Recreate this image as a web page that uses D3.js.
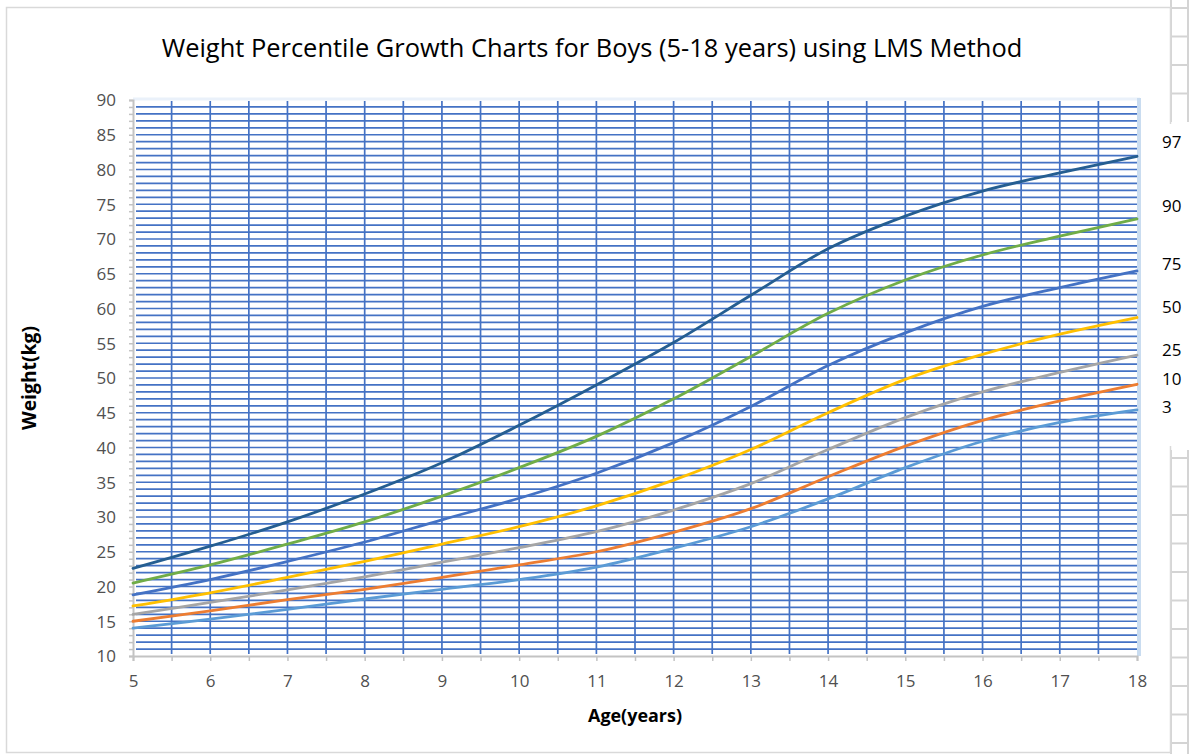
<!DOCTYPE html>
<html>
<head>
<meta charset="utf-8">
<script src="https://cdn.jsdelivr.net/npm/d3@7"></script>
<style>
  html, body { margin: 0; padding: 0; background: #fff; }
  svg { display: block; }
  text { font-family: "Open Sans", Lato, sans-serif; }
</style>
</head>
<body>
<svg id="chart" width="1192" height="754"></svg>
<script>
// ---- data ----
const ages = [5, 6, 7, 8, 9, 10, 11, 12, 13, 14, 15, 16, 17, 18];
const p97 = [22.6, 25.8, 29.3, 33.3, 37.8, 43.2, 49.0, 55.1, 61.9, 68.6, 73.3, 76.9, 79.5, 81.9];
const p90 = [20.5, 23.1, 26.1, 29.3, 33.0, 37.1, 41.6, 47.0, 53.1, 59.3, 64.1, 67.7, 70.4, 72.9];
const p75 = [18.8, 21.0, 23.6, 26.4, 29.6, 32.7, 36.3, 40.7, 45.9, 51.8, 56.5, 60.3, 63.0, 65.4];
const p50 = [17.2, 19.1, 21.3, 23.6, 26.1, 28.6, 31.6, 35.3, 39.7, 45.0, 49.8, 53.4, 56.3, 58.7];
const p25 = [16.0, 17.7, 19.5, 21.4, 23.5, 25.6, 27.9, 31.0, 34.8, 39.7, 44.3, 48.0, 50.8, 53.3];
const p10 = [15.0, 16.5, 18.1, 19.6, 21.3, 23.1, 25.0, 27.8, 31.2, 35.8, 40.2, 43.9, 46.7, 49.1];
const p3  = [14.0, 15.3, 16.7, 18.2, 19.6, 21.0, 22.8, 25.5, 28.6, 32.6, 37.1, 40.9, 43.6, 45.4];

const seriesNames = ["97", "90", "75", "50", "25", "10", "3"];
const seriesValues = [p97, p90, p75, p50, p25, p10, p3];
const seriesColors = ["#255E91", "#70AD47", "#4472C4", "#FFC000", "#A5A5A5", "#ED7D31", "#5B9BD5"];
// where the hand-placed percentile labels sit on the weight scale (kg)
const labelLevels = [84.0, 74.8, 66.4, 60.2, 54.0, 49.8, 45.8];

const xTicks = [5, 6, 7, 8, 9, 10, 11, 12, 13, 14, 15, 16, 17, 18];
const yTicks = [10, 15, 20, 25, 30, 35, 40, 45, 50, 55, 60, 65, 70, 75, 80, 85, 90];
const titleText = "Weight Percentile Growth Charts for Boys (5-18 years) using LMS Method";
const xTitle = "Age(years)";
const yTitle = "Weight(kg)";

// ---- layout ----
const svg = d3.select("#chart");
const plot = { left: 133, right: 1137, top: 100, bottom: 656 };
const x = d3.scaleLinear().domain([5, 18]).range([plot.left, plot.right]);
const y = d3.scaleLinear().domain([10, 90]).range([plot.bottom, plot.top]);

function fitWidth(sel, base, target) {
  const w = sel.node().getComputedTextLength();
  sel.attr("font-size", base * target / w);
}

// spreadsheet cells peeking out on the right
const cellG = svg.append("g").attr("stroke", "#d4d4d4").attr("stroke-width", 2).attr("fill", "none");
[[0, 122], [450, 754]].forEach(([t, b]) => {
  cellG.append("line").attr("x1", 1171).attr("x2", 1171).attr("y1", t).attr("y2", b);
  cellG.append("line").attr("x1", 1188).attr("x2", 1188).attr("y1", t).attr("y2", b);
  for (let yy = t + 8; yy < b; yy += 28.5) {
    cellG.append("line").attr("x1", 1171).attr("x2", 1188).attr("y1", yy).attr("y2", yy);
  }
});

// chart border
svg.append("rect").attr("x", 6.5).attr("y", 7.5).attr("width", 1164).attr("height", 745)
  .attr("fill", "#fff").attr("stroke", "#d9d9d9").attr("stroke-width", 1.5);
// white text box holding the percentile labels
svg.append("rect").attr("x", 1150).attr("y", 124).attr("width", 42).attr("height", 322).attr("fill", "#fff");

// title (sized to the reference's width)
const title = svg.append("text").attr("x", 592).attr("y", 57).attr("text-anchor", "middle")
  .attr("font-size", 20).attr("fill", "#000").text(titleText);
fitWidth(title, 20, 861);

// plot-area edges (light blue)
svg.append("line").attr("x1", plot.left).attr("x2", plot.right + 3).attr("y1", plot.top - 1).attr("y2", plot.top - 1)
  .attr("stroke", "#eaf1fa").attr("stroke-width", 3);
svg.append("line").attr("x1", plot.right + 2).attr("x2", plot.right + 2).attr("y1", plot.top - 2).attr("y2", plot.bottom)
  .attr("stroke", "#c9dcf0").attr("stroke-width", 4);

// gridlines
const hGrid = d3.range(11, 90, 1);
const vGrid = d3.range(5.5, 18, 0.5);
const gridG = svg.append("g").attr("stroke", "#4472C4").attr("stroke-width", 1.7);
gridG.selectAll("line.h").data(hGrid).join("line").attr("class", "h")
  .attr("x1", plot.left + 3).attr("x2", plot.right).attr("y1", d => y(d)).attr("y2", d => y(d));
gridG.selectAll("line.v").data(vGrid).join("line").attr("class", "v")
  .attr("x1", d => x(d)).attr("x2", d => x(d)).attr("y1", plot.top + 1).attr("y2", plot.bottom - 2);

// axes
const xAxis = d3.axisBottom(x).tickValues(d3.range(5, 18.01, 0.5)).tickSize(5).tickFormat(d => xTicks.includes(d) ? d : "");
const yAxis = d3.axisLeft(y).tickValues(d3.range(10, 90.01, 1)).tickSize(4).tickFormat(d => yTicks.includes(d) ? d : "");

const gx = svg.append("g").attr("transform", `translate(0,${plot.bottom})`).call(xAxis);
gx.attr("font-size", 17).attr("font-family", null);
gx.select(".domain").attr("stroke", "#c3c3c3").attr("stroke-width", 2);
gx.selectAll(".tick line").attr("stroke", "#c3c3c3").attr("stroke-width", 1.5);
gx.selectAll(".tick text").attr("font-size", 17).attr("fill", "#505050").attr("dy", 0).attr("y", 31);

const gy = svg.append("g").attr("transform", `translate(${plot.left},0)`).call(yAxis);
gy.attr("font-size", 17).attr("font-family", null);
gy.select(".domain").attr("stroke", "#c3c3c3").attr("stroke-width", 2);
gy.selectAll(".tick line").attr("stroke", "#c3c3c3").attr("stroke-width", 1.5);
gy.selectAll(".tick text").attr("font-size", 17).attr("fill", "#505050").attr("x", -17).attr("dy", "0.35em");

// axis titles
const xt = svg.append("text").attr("x", (plot.left + plot.right) / 2).attr("y", 722).attr("text-anchor", "middle")
  .attr("font-size", 15).attr("font-weight", "bold").attr("fill", "#000").text(xTitle);
fitWidth(xt, 15, 94);
const yt = svg.append("text").attr("transform", `translate(36,${(plot.top + plot.bottom) / 2}) rotate(-90)`)
  .attr("text-anchor", "middle").attr("font-size", 15).attr("font-weight", "bold").attr("fill", "#000").text(yTitle);
fitWidth(yt, 15, 104);

// curves
const line = d3.line().x(d => x(d[0])).y(d => y(d[1])).curve(d3.curveCatmullRom.alpha(0.5));
seriesValues.forEach((vals, i) => {
  svg.append("path").datum(ages.map((a, j) => [a, vals[j]]))
    .attr("d", line).attr("fill", "none").attr("stroke", seriesColors[i])
    .attr("stroke-width", 2.8).attr("stroke-linecap", "round");
});

// percentile labels
svg.selectAll("text.pl").data(seriesNames).join("text").attr("class", "pl")
  .attr("x", 1162).attr("y", (d, i) => y(labelLevels[i])).attr("dy", "0.35em")
  .attr("font-size", 17).attr("fill", "#000").text(d => d);
</script>
</body>
</html>
